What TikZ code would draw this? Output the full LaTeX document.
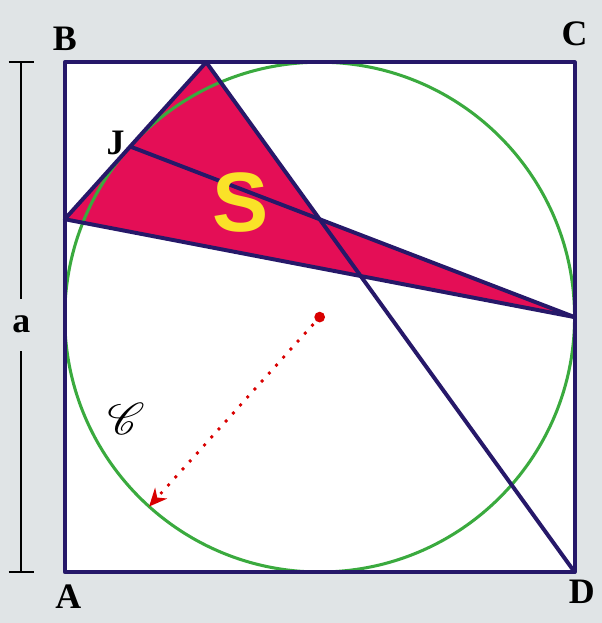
\documentclass[tikz,border=0pt]{standalone}
\usepackage{fontspec}
\usepackage{mathrsfs}
\setmainfont{Liberation Serif}
\newfontfamily\redonda{Liberation Sans}
\usetikzlibrary{calc,arrows.meta}
\definecolor{tinta}{RGB}{38,24,105}
\definecolor{verde}{RGB}{58,170,62}
\definecolor{carmin}{RGB}{228,14,86}
\definecolor{fondo}{RGB}{224,228,230}
\definecolor{amarillo}{RGB}{250,226,40}
\begin{document}
\begin{tikzpicture}[x=1cm, y=1cm,
    trazo/.style={tinta, line width=2.2pt, line join=round},
    letra/.style={font=\fontsize{20}{24}\selectfont\bfseries, inner sep=1pt}]
    \useasboundingbox (-1.27,-1.0) rectangle (10.53,11.22);
    \fill[fondo] (-1.27,-1.0) rectangle (10.53,11.22);
    \coordinate (A) at (0,0);
    \coordinate (D) at (10,0);
    \coordinate (C) at (10,10);
    \coordinate (B) at (0,10);
    \coordinate (O) at (5,5);
    % J es el punto de tangencia de la recta TL con el circulo.
    \coordinate (J) at ($(O)+(138:5)$);
    \coordinate (T) at (2.774,10);
    \coordinate (L) at (0,6.92);
    \coordinate (R) at (10,5);
    \coordinate (Y) at (intersection of T--D and J--R);
    \coordinate (E) at ($(O)+(228:5)$);
    \fill[white] (A) rectangle (C);
    \fill[carmin] (T) -- (L) -- (R) -- (Y) -- cycle;
    \draw[verde, line width=1.7pt] (O) circle (5);
    \draw[trazo] (A) rectangle (C);
    \draw[trazo] (T) -- (L) -- (R);
    \draw[trazo] (J) -- (R);
    \draw[trazo] (T) -- (D);
    \draw[red!85!black, line width=2.2pt, line cap=round, dash pattern=on 0pt off 6pt,
        -{Stealth[length=10pt, width=9pt]}] (O) -- (E);
    \fill[red!85!black] (O) circle (3pt);
    \node[letra, above=5pt] at (B) {B};
    \node[letra, above=8pt] at (C) {C};
    \node[letra, below=6pt, xshift=2pt] at (A) {A};
    \node[letra, below=3pt, xshift=4pt] at (D) {D};
    \node[letra, left=2pt, yshift=2pt] at (J) {J};
    \node[amarillo, font=\fontsize{47}{50}\redonda\bfseries] (S) at (3.45,7.25) {S};
    \node[font=\fontsize{32}{36}\selectfont, line width=0.4pt] (Cal) at (1.2,3.0) {$\mathscr{C}$};
    % cota del lado
    \node[letra, minimum height=1cm] (la) at (-0.85,4.85) {a};
    \coordinate (a0) at (-0.85,0);
    \coordinate (a1) at (-0.85,10);
    \draw[line width=1.2pt] (a0) -- (la.south);
    \draw[line width=1.2pt] (la.north) -- (a1);
    \draw[line width=1.2pt] ($(a0)+(-0.25,0)$) -- ($(a0)+(0.25,0)$);
    \draw[line width=1.2pt] ($(a1)+(-0.25,0)$) -- ($(a1)+(0.25,0)$);
\end{tikzpicture}
\end{document}
